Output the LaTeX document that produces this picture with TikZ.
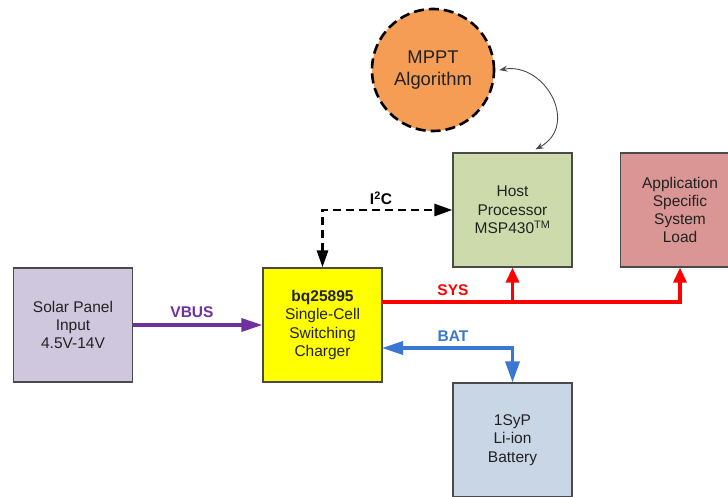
\documentclass[tikz,border=0pt]{standalone}
\usepackage{fontspec}
\setmainfont{Liberation Sans}
\usetikzlibrary{arrows.meta,positioning}
\definecolor{edgegray}{HTML}{4A4A4A}
\definecolor{textgray}{HTML}{222222}
\definecolor{solarfill}{HTML}{CFC7DD}
\definecolor{chargerfill}{HTML}{FFFF00}
\definecolor{hostfill}{HTML}{CDDBAC}
\definecolor{appfill}{HTML}{D99694}
\definecolor{batfill}{HTML}{C8D6E6}
\definecolor{mpptfill}{HTML}{F59C55}
\definecolor{vbuscol}{HTML}{7030A0}
\definecolor{syscol}{HTML}{FF0000}
\definecolor{batcol}{HTML}{3A77D2}

\begin{document}
\begin{tikzpicture}[x=1pt,y=-1pt,
  block/.style={draw=edgegray, line width=1.2pt, minimum width=119pt, minimum height=114pt,
    inner sep=0pt, align=center, text=textgray, font=\fontsize{15.5}{18.3}\selectfont},
  buslabel/.style={font=\bfseries\fontsize{15.5}{18}\selectfont},
  busline/.style={line width=3.3pt},
  bigtip/.style={-{Triangle[length=21pt,width=13pt]}}]
\path[use as bounding box, clip] (0,0) rectangle (728,496);
\node[block, fill=solarfill] (solar) at (73,325) {Solar Panel\\Input\\4.5V-14V};
\node[block, fill=chargerfill] (charger) at (322.5,325) {\textbf{bq25895}\\Single-Cell\\Switching\\Charger};
\node[block, fill=hostfill] (host) at (512.5,210) {Host\\Processor\\MSP430\textsuperscript{TM}};
\node[block, fill=appfill] (app) at (680,210) {Application\\Specific\\System\\Load};
\node[block, fill=batfill] (battery) at (512.5,440) {1SyP\\Li-ion\\Battery};
\node[circle, draw=black, line width=2.6pt, dash pattern=on 10pt off 5pt, fill=mpptfill,
  minimum size=122pt, inner sep=0pt, align=center, text=textgray,
  font=\fontsize{18.4}{21.7}\selectfont] (mppt) at (433,70) {MPPT\\Algorithm};
\node[buslabel, text=vbuscol] (vbuslbl) at (192,312) {VBUS};
\node[buslabel, text=syscol] (syslbl) at (453,290) {SYS};
\node[buslabel, text=batcol] (batlbl) at (453,336) {BAT};
\node[buslabel] (i2clbl) at (381,198) {I\textsuperscript{2}C};
\coordinate (sys) at (382,302);
\coordinate (bat) at (382,348);
\draw[busline, vbuscol, bigtip] (solar.east) -- (charger.west);
\draw[busline, syscol, -{Triangle[length=15pt,width=13pt]}] (sys) -| (app.south);
\draw[busline, syscol, -{Triangle[length=15pt,width=13pt]}] (sys -| host.south) -- (host.south);
\draw[busline, batcol, {Triangle[length=21pt,width=13pt]}-{Triangle[length=21pt,width=14pt]}]
  (bat) -| (battery.north);
\draw[line width=2.8pt, dash pattern=on 8pt off 5pt,
  {Triangle[length=17pt,width=11pt]}-{Triangle[length=18pt,width=12pt]}]
  (charger.north) |- (host.west);
\draw[edgegray, line width=0.9pt, {Stealth[length=8pt,width=6pt]}-{Stealth[length=8pt,width=6pt]}]
  ([xshift=4pt]mppt.east) .. controls (545,62) and (580,125) .. ([xshift=23pt,yshift=3pt]host.north);
\end{tikzpicture}
\end{document}
